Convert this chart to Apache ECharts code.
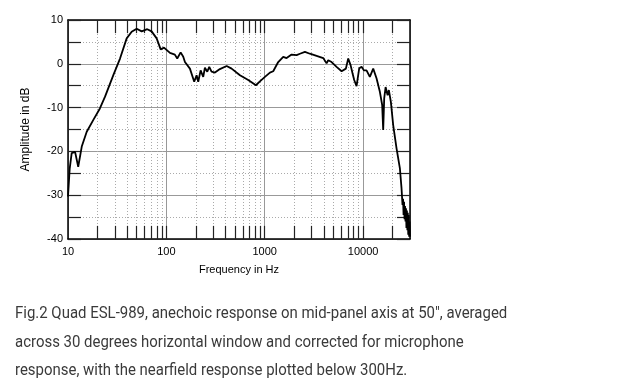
<!DOCTYPE html>
<html>
<head>
<meta charset="utf-8">
<script src="https://cdn.jsdelivr.net/npm/echarts@6/dist/echarts.min.js"></script>
<style>
html,body{margin:0;padding:0;background:#fff;}
#chart{width:628px;height:383px;}
</style>
</head>
<body>
<div id="chart"></div>
<script>
// Frequency (Hz) and amplitude (dB)
const freqHz = [10, 10.4, 10.9, 11.8, 12.7, 13.8, 15.5, 18.1, 21.1, 23.8, 28.9, 33.8, 39.5, 44.4, 49.9, 56.1, 64, 70.8, 79.7, 87.5, 94.6, 108.8, 122, 129, 139.7, 148.5, 154.5, 173.6, 192, 203, 211, 223, 237, 246.6, 260.6, 273, 288, 312, 350, 410, 461, 560, 680, 814, 894, 1005, 1047, 1130, 1220, 1372, 1543, 1669, 1876, 2110, 2280, 2563, 2880, 3367, 3936, 4256, 4424, 4786, 5379, 6051, 6687, 7063, 7466, 7822, 8125, 8587, 9141, 9660, 10190, 10840, 11720, 12680, 13700, 14820, 15640, 16020, 16400, 16950, 17760, 18290, 19170, 20240, 21890, 23660, 24600, 25180, 25500, 25800, 26100, 26400, 26700, 27000, 27300, 27600, 27900, 28200, 28500, 28800, 29100, 29400, 29700, 30000];
const ampDb = [-30.3, -24, -20.4, -20.1, -23.5, -18.9, -15.5, -12.8, -10.2, -7.5, -2.6, 1.2, 5.8, 7.3, 8.0, 7.4, 7.9, 7.4, 5.8, 3.3, 3.7, 2.5, 2.1, 1.2, 2.6, 1.6, 0.4, -1.1, -4.1, -2.6, -4.1, -1.5, -3.0, -0.9, -1.8, -0.7, -1.8, -2.0, -1.2, -0.5, -1.1, -2.6, -3.7, -4.9, -4.0, -3.0, -2.6, -2.0, -1.7, 0.4, 1.6, 1.3, 2.1, 2.0, 2.3, 2.7, 2.3, 1.8, 1.3, 0.1, 0.8, 0.4, -0.7, -1.7, -1.1, 1.2, -0.3, -2.2, -3.7, -5.1, -1.0, -0.7, -1.5, -1.5, -3.0, -1.1, -3.3, -6.4, -9.4, -15.1, -7.9, -5.3, -7.2, -6.0, -8.7, -14.0, -19.3, -23.8, -28.4, -32.2, -30.8, -34.5, -31.5, -35.5, -32.5, -36, -33, -37.5, -33.5, -38, -34, -39, -34.5, -39.5, -36, -39.5];

// Axis tick values
const majorFreqs = [100, 1000, 10000];
const minorFreqs = [20, 30, 40, 50, 60, 70, 80, 90, 200, 300, 400, 500, 600, 700, 800, 900, 2000, 3000, 4000, 5000, 6000, 7000, 8000, 9000, 20000];
const xMin = 10, xMax = 30000;
const yMin = -40, yMax = 10, yStep = 10;
const tickDb = 3; // tick length in dB units for the vertical ticks on the frequency axis

const captionLines = [
  'Fig.2 Quad ESL-989, anechoic response on mid-panel axis at 50", averaged',
  'across 30 degrees horizontal window and corrected for microphone',
  'response, with the nearfield response plotted below 300Hz.'
];

const curve = freqHz.map((f, i) => [f, ampDb[i]]);

const gridMarks = [];
minorFreqs.forEach(f => {
  gridMarks.push({ xAxis: f, lineStyle: { color: '#aaa', type: [1, 2], width: 1 } });
});
const tickMarks = [];
minorFreqs.concat(majorFreqs).forEach(f => {
  tickMarks.push([{ coord: [f, yMin], lineStyle: { color: '#222', type: 'solid', width: 1.2 } }, { coord: [f, yMin + tickDb] }]);
  tickMarks.push([{ coord: [f, yMax], lineStyle: { color: '#222', type: 'solid', width: 1.2 } }, { coord: [f, yMax - tickDb] }]);
});

const font = '"Liberation Sans", Arial, sans-serif';
const chart = echarts.init(document.getElementById('chart'));
chart.setOption({
  animation: false,
  backgroundColor: '#fff',
  grid: { left: 68, top: 20, right: 218, bottom: 144, containLabel: false },
  xAxis: [{
    type: 'log', logBase: 10, min: xMin, max: xMax, position: 'bottom',
    name: 'Frequency in Hz', nameLocation: 'middle', nameGap: 25,
    nameTextStyle: { fontFamily: font, fontSize: 11, color: '#000' },
    axisLine: { show: true, onZero: false, lineStyle: { color: '#000', width: 1.5 } },
    axisTick: { show: false },
    axisLabel: { fontFamily: font, fontSize: 11, color: '#000', margin: 7, showMaxLabel: false, formatter: v => String(Math.round(v)) },
    splitLine: { show: true, lineStyle: { color: '#999', width: 1 } }
  }, {
    type: 'log', logBase: 10, min: xMin, max: xMax, position: 'top',
    axisLine: { show: true, onZero: false, lineStyle: { color: '#000', width: 1.5 } },
    axisTick: { show: false }, axisLabel: { show: false }, splitLine: { show: false }
  }],
  yAxis: [{
    type: 'value', min: yMin, max: yMax, interval: yStep, position: 'left',
    name: 'Amplitude in dB', nameLocation: 'middle', nameGap: 36,
    nameTextStyle: { fontFamily: font, fontSize: 12, color: '#000' },
    axisLine: { show: true, onZero: false, lineStyle: { color: '#000', width: 1.5 } },
    axisTick: { show: true, inside: true, length: 13, lineStyle: { color: '#222', width: 1.2 } },
    minorTick: { show: true, splitNumber: 2, length: 13, lineStyle: { color: '#222', width: 1.2 } },
    axisLabel: { fontFamily: font, fontSize: 11, color: '#000', margin: 5 },
    splitLine: { show: true, lineStyle: { color: '#999', width: 1 } },
    minorSplitLine: { show: true, lineStyle: { color: '#aaa', type: [1, 2], width: 1 } }
  }, {
    type: 'value', min: yMin, max: yMax, interval: yStep, position: 'right',
    axisLine: { show: true, onZero: false, lineStyle: { color: '#000', width: 1.5 } },
    axisTick: { show: true, inside: true, length: 13, lineStyle: { color: '#222', width: 1.2 } },
    minorTick: { show: true, splitNumber: 2, length: 13, lineStyle: { color: '#222', width: 1.2 } },
    axisLabel: { show: false }, splitLine: { show: false }
  }],
  series: [{
    type: 'line', xAxisIndex: 0, yAxisIndex: 0, z: 1, silent: true,
    data: [[xMin, yMin]], showSymbol: false, symbol: 'none', lineStyle: { opacity: 0 },
    markLine: { silent: true, symbol: 'none', label: { show: false }, animation: false, data: gridMarks.concat(tickMarks) }
  }, {
    type: 'line', xAxisIndex: 0, yAxisIndex: 0, z: 5, silent: true,
    data: curve, showSymbol: false, symbol: 'none', smooth: false,
    lineStyle: { color: '#000', width: 1.8 }
  }],
  graphic: [{
    type: 'text', x: 15, y: 299.5, scaleX: 0.935,
    style: { text: captionLines.join('\n'), font: '16px Roboto', fill: '#3a3a3a', lineHeight: 28.7 }
  }]
});
</script>
</body>
</html>
